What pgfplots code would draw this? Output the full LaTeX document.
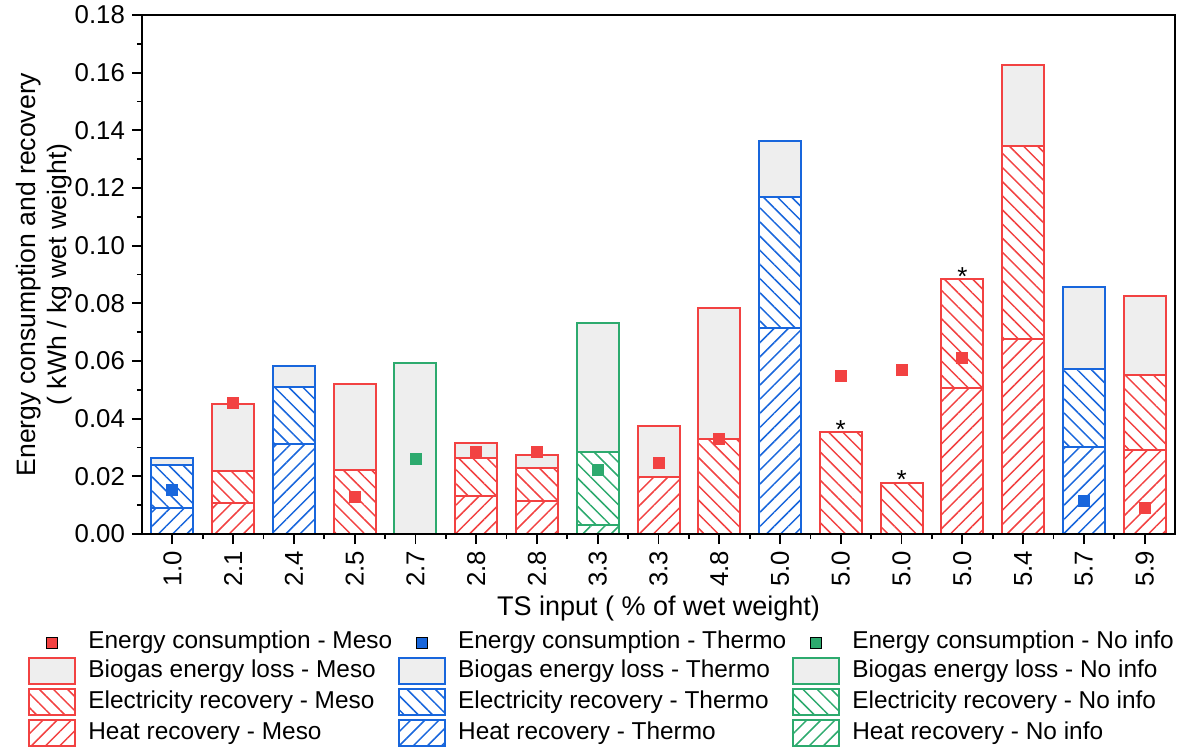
\documentclass[border=0pt]{standalone}
\usepackage{pgfplots}
\pgfplotsset{compat=1.18}
\usetikzlibrary{patterns,patterns.meta}
\usepackage{fontspec}
\setmainfont{Liberation Sans}
\definecolor{cRed}{RGB}{242,66,66}
\definecolor{cBlue}{RGB}{24,102,220}
\definecolor{cGreen}{RGB}{45,170,110}
\definecolor{cGray}{RGB}{238,238,238}

\pgfplotsset{
  base/.style={at={(0,0)}, anchor=south west, scale only axis,
    width=516.5pt, height=259.5pt, xmin=-0.5, xmax=16.5, ymin=0, ymax=0.18},
  grp/.style={base, hide axis, ybar stacked, bar width=21pt},
  heat/.style={draw=#1, line width=1pt,
    pattern={Lines[angle=45,distance=5pt,line width=0.75pt]}, pattern color=#1},
  elec/.style={draw=#1, line width=1pt,
    pattern={Lines[angle=-45,distance=5pt,line width=0.75pt]}, pattern color=#1},
  bio/.style={draw=#1, line width=1pt, fill=cGray},
  boxlegend/.style={legend image code/.code={\draw[##1] (0pt,-6.5pt) rectangle (23pt,6.5pt);}},
  sqlegend/.style={legend image code/.code={\fill[##1] (8.75pt,-2.75pt) rectangle (14.25pt,2.75pt);}},
}

\begin{document}
\begin{tikzpicture}
\path[use as bounding box] (-71pt,-107.5pt) rectangle (520.5pt,267pt);

% Thermo
\begin{axis}[grp]
\addplot[heat=cBlue] coordinates {(0,0.0091) (2,0.0312) (10,0.0713) (15,0.0302)};
\addplot[elec=cBlue] coordinates {(0,0.0148) (2,0.0199) (10,0.0457) (15,0.0270)};
\addplot[bio=cBlue] coordinates {(0,0.0025) (2,0.0073) (10,0.0193) (15,0.0284)};
\end{axis}

% Meso
\begin{axis}[grp]
\addplot[heat=cRed] coordinates {(1,0.0106) (3,0) (5,0.0133) (6,0.0114) (8,0.0196) (9,0) (11,0) (12,0) (13,0.0506) (14,0.0675) (16,0.0291)};
\addplot[elec=cRed] coordinates {(1,0.0111) (3,0.0221) (5,0.0132) (6,0.0114) (8,0) (9,0.0331) (11,0.0353) (12,0.0178) (13,0.0378) (14,0.0670) (16,0.0262)};
\addplot[bio=cRed] coordinates {(1,0.0235) (3,0.0298) (5,0.0052) (6,0.0046) (8,0.0179) (9,0.0453) (11,0) (12,0) (13,0) (14,0.0283) (16,0.0273)};
\end{axis}

% No info
\begin{axis}[grp]
\addplot[heat=cGreen] coordinates {(4,0) (7,0.0031)};
\addplot[elec=cGreen] coordinates {(4,0) (7,0.0255)};
\addplot[bio=cGreen] coordinates {(4,0.0592) (7,0.0446)};
\end{axis}

% Visible axis, markers, legend
\begin{axis}[base,
  axis line style={line width=0.9pt},
  tick align=outside, tick pos=left,
  major tick length=5pt, minor tick length=2.5pt,
  every tick/.style={black, line width=0.9pt},
  xtick={0,...,16},
  xticklabels={1.0,2.1,2.4,2.5,2.7,2.8,2.8,3.3,3.3,4.8,5.0,5.0,5.0,5.0,5.4,5.7,5.9},
  minor x tick num=1,
  ytick={0,0.02,0.04,0.06,0.08,0.10,0.12,0.14,0.16,0.18},
  minor y tick num=1,
  scaled y ticks=false,
  /pgf/number format/assume math mode=true,
  /pgf/number format/fixed,
  /pgf/number format/fixed zerofill,
  /pgf/number format/precision=2,
  x tick label style={rotate=90, anchor=east, font=\fontsize{12.9}{15}\selectfont},
  y tick label style={font=\fontsize{12.9}{15}\selectfont},
  xlabel={TS input ( \% of wet weight)},
  xlabel style={at={(axis description cs:0.5,-0.1427)}, anchor=center, font=\fontsize{13.5}{15}\selectfont},
  ylabel={Energy consumption and recovery\\( kWh / kg wet weight)},
  ylabel style={align=center, at={(axis description cs:-0.0947,0.5)}, anchor=center, font=\fontsize{13.3}{15.5}\selectfont},
  legend columns=3,
  legend cell align=left,
  legend style={at={(axis description cs:-0.1104,-0.1850)}, anchor=north west,
    draw=none, fill=none, inner sep=0pt, row sep=1.5pt,
    font=\fontsize{12.2}{14}\selectfont,
    nodes={inner ysep=0pt, inner xsep=3pt, text height=9pt, text depth=3pt},
    /tikz/every odd column/.append style={column sep=3pt},
    /tikz/every even column/.append style={column sep=0pt}},
]
\addplot[forget plot, only marks, mark=square*, mark size=2.75pt, color=cRed]
  coordinates {(1,0.0454) (3,0.0127) (5,0.0285) (6,0.0285) (8,0.0246) (9,0.0329) (11,0.0548) (12,0.0570) (13,0.0612) (16,0.0091)};
\addplot[forget plot, only marks, mark=square*, mark size=2.75pt, color=cBlue]
  coordinates {(0,0.0154) (15,0.0116)};
\addplot[forget plot, only marks, mark=square*, mark size=2.75pt, color=cGreen]
  coordinates {(4,0.0262) (7,0.0224)};
\addplot[forget plot, draw=none, mark=none, nodes near coords={*},
  nodes near coords style={anchor=base, yshift=-3pt, inner sep=0pt, black, font=\fontsize{13}{15}\selectfont}]
  coordinates {(11,0.0353) (12,0.0178) (13,0.0884)};

\addlegendimage{sqlegend, fill=cRed}
\addlegendentry{Energy consumption - Meso}
\addlegendimage{sqlegend, fill=cBlue}
\addlegendentry{Energy consumption - Thermo}
\addlegendimage{sqlegend, fill=cGreen}
\addlegendentry{Energy consumption - No info}
\addlegendimage{boxlegend, bio=cRed}
\addlegendentry{Biogas energy loss - Meso}
\addlegendimage{boxlegend, bio=cBlue}
\addlegendentry{Biogas energy loss - Thermo}
\addlegendimage{boxlegend, bio=cGreen}
\addlegendentry{Biogas energy loss - No info}
\addlegendimage{boxlegend, elec=cRed}
\addlegendentry{Electricity recovery - Meso}
\addlegendimage{boxlegend, elec=cBlue}
\addlegendentry{Electricity recovery - Thermo}
\addlegendimage{boxlegend, elec=cGreen}
\addlegendentry{Electricity recovery - No info}
\addlegendimage{boxlegend, heat=cRed}
\addlegendentry{Heat recovery - Meso}
\addlegendimage{boxlegend, heat=cBlue}
\addlegendentry{Heat recovery - Thermo}
\addlegendimage{boxlegend, heat=cGreen}
\addlegendentry{Heat recovery - No info}
\end{axis}
\end{tikzpicture}
\end{document}
